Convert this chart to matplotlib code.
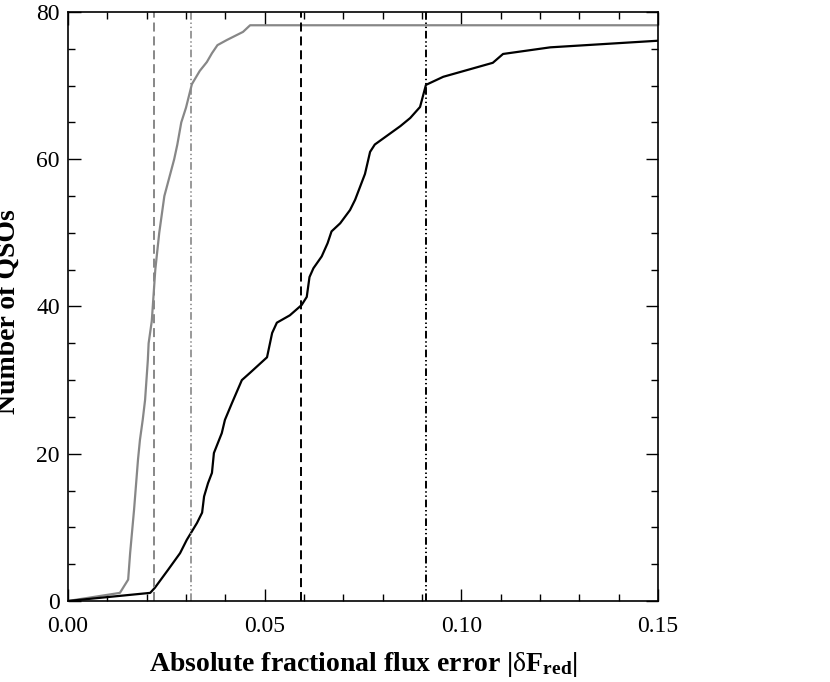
#Cumulative distribution of absolute fractional flux error
import numpy as np
import matplotlib
matplotlib.use('Agg')
import matplotlib.pyplot as plt

plt.rcParams['font.family'] = ['Liberation Serif', 'DejaVu Serif']
plt.rcParams['mathtext.fontset'] = 'custom'
plt.rcParams['mathtext.rm'] = 'Liberation Serif'
plt.rcParams['mathtext.bf'] = 'Liberation Serif:bold'
plt.rcParams['lines.scale_dashes'] = False

#grey sample
err_grey = [0.0, 0.0132, 0.0153, 0.0158, 0.0168, 0.0178, 0.0183, 0.0190, 0.0196,
            0.0203, 0.0205, 0.0213, 0.0222, 0.0232, 0.0245, 0.0270, 0.0278,
            0.0288, 0.0300, 0.0315, 0.0335, 0.0353, 0.0366, 0.0380, 0.0404,
            0.0445, 0.0463, 0.15]
n_grey = [0, 1.1, 2.9, 6.5, 12.4, 19.2, 21.9, 24.6, 27.3,
          32.7, 35, 38, 45, 50, 55, 60, 62,
          65, 67, 70.2, 72, 73.2, 74.4, 75.5, 76.2,
          77.3, 78.2, 78.2]

#black sample
err_black = [0.0, 0.0209, 0.0221, 0.0254, 0.0285, 0.0302, 0.0328, 0.0341, 0.0346,
             0.0356, 0.0366, 0.0371, 0.0391, 0.0399, 0.0417, 0.0442, 0.0463,
             0.0506, 0.0519, 0.0531, 0.0564, 0.0594, 0.0607, 0.0614, 0.0624,
             0.0645, 0.0660, 0.0670, 0.0692, 0.0717, 0.0730, 0.0755, 0.0768,
             0.0780, 0.0806, 0.0845, 0.0870, 0.0895, 0.0910, 0.0954, 0.1080,
             0.1106, 0.1226, 0.15]
n_black = [0, 1.1, 1.8, 4.2, 6.5, 8.3, 10.6, 12.0, 14.2,
           16.0, 17.4, 20.1, 22.8, 24.6, 26.9, 30.0, 31.0,
           33.1, 36.4, 37.8, 38.8, 40.2, 41.3, 44.0, 45.2,
           46.8, 48.6, 50.2, 51.3, 53.1, 54.5, 58.0, 61.0,
           62.0, 63.0, 64.5, 65.6, 67.1, 70.1, 71.2, 73.1,
           74.3, 75.2, 76.1]

#marker lines
grey_dash = 0.0219
grey_dotdash = 0.0313
black_dash = 0.0592
black_dotdash = 0.0910

fig = plt.figure(figsize=(8.3, 6.82), dpi=100)
ax = fig.add_axes([0.0819, 0.1188, 0.7109, 0.8636])

grey = '#878787'
ax.plot(err_grey, n_grey, color=grey, lw=1.6)
ax.plot(err_black, n_black, color='black', lw=1.6)

dash = (0, (6.5, 3.5))
dotdash = (0, (5.5, 2, 1, 2, 1, 2))
ax.axvline(grey_dash, color=grey, lw=1.4, linestyle=dash)
ax.axvline(grey_dotdash, color=grey, lw=1.2, linestyle=dotdash)
ax.axvline(black_dash, color='black', lw=1.4, linestyle=dash)
ax.axvline(black_dotdash, color='black', lw=1.4, linestyle=dotdash)

ax.set_xlim(0, 0.15)
ax.set_ylim(0, 80)
ax.set_xticks(np.arange(0, 0.151, 0.05))
ax.set_xticks(np.arange(0, 0.151, 0.01), minor=True)
ax.set_yticks(np.arange(0, 81, 20))
ax.set_yticks(np.arange(0, 81, 5), minor=True)
ax.xaxis.set_major_formatter(matplotlib.ticker.FormatStrFormatter('%.2f'))
ax.tick_params(which='both', direction='in', top=True, right=True,
               labelsize=17, width=1)
ax.tick_params(which='major', length=9)
ax.tick_params(axis='x', which='major', pad=11)
ax.tick_params(axis='y', which='major', pad=6)
ax.tick_params(which='minor', length=5)
for s in ax.spines.values():
    s.set_linewidth(1.2)

ax.set_xlabel(r'Absolute fractional flux error |$\mathrm{\delta}\mathbf{F_{red}}$|',
              fontsize=20, fontweight='bold', labelpad=9)
fig.text(15/830, 1-312/682, 'Number of QSOs', rotation=90, fontsize=20,
         fontweight='bold', ha='center', va='baseline', rotation_mode='anchor')

plt.savefig('out.png', dpi=100)
